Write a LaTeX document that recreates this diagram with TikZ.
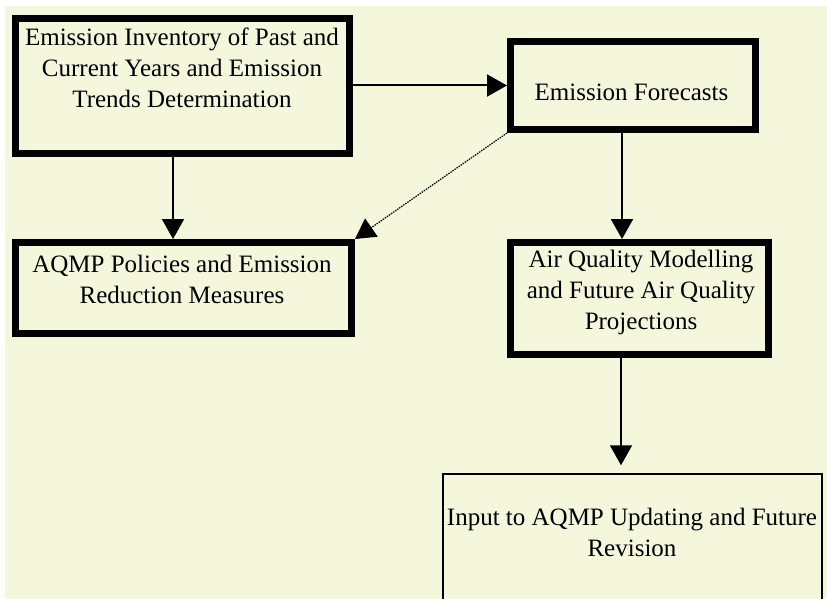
\documentclass[tikz,border=0pt]{standalone}
\usepackage{fontspec}
\setmainfont{Liberation Serif}
\usetikzlibrary{arrows.meta}
\definecolor{paper}{RGB}{245,247,220}
\begin{document}
\begin{tikzpicture}[x=1pt,y=-1pt,
  heavybox/.style={draw=black, line width=7pt, fill=paper, inner sep=0pt, rectangle},
  lightbox/.style={draw=black, line width=1.5pt, fill=paper, inner sep=0pt, rectangle},
  label/.style={font=\fontsize{25}{31}\selectfont, align=center, inner sep=0pt},
  flow/.style={line width=2pt, -{Triangle[length=20pt,width=22pt]}},
  hint/.style={line width=1.2pt, dash pattern=on 1.5pt off 1pt, -{Triangle[length=20pt,width=22pt]}}
]
\useasboundingbox (0,0) rectangle (827,599);
\fill[white] (0,0) rectangle (827,599);
\fill[paper] (5,6) rectangle (827,599);

% boxes
\node[heavybox, minimum width=334pt, minimum height=135pt] (inv) at (182.5,86) {};
\node[heavybox, minimum width=245pt, minimum height=88pt] (fc) at (633,85.5) {};
\node[heavybox, minimum width=336pt, minimum height=91pt] (pol) at (183.5,288) {};
\node[heavybox, minimum width=258pt, minimum height=112pt] (aqm) at (639.5,298.5) {};
\node[lightbox, minimum width=379pt, minimum height=140pt] (inp) at (632.5,544) {};

% box texts
\node[label] (tinv) at (182,68) {Emission Inventory of Past and\\Current Years and Emission\\Trends Determination};
\node[label] (tfc) at (631.5,92) {Emission Forecasts};
\node[label] (tpol) at (182,279) {AQMP Policies and Emission\\Reduction Measures};
\node[label] (taqm) at (641,292) {Air Quality Modelling\\and Future Air Quality\\Projections};
\node[label] (tinp) at (632,532) {Input to AQMP Updating and Future\\Revision};

% connectors
\draw[flow] (fc.west -| inv.east) -- (fc.west);
\draw[flow] ([xshift=-9.5pt]inv.south) -- ([xshift=-9.5pt]inv.south |- pol.north);
\draw[flow] ([xshift=-11pt]fc.south) -- ([xshift=-11pt]fc.south |- aqm.north);
\draw[flow, shorten >=8pt] ([xshift=-18.5pt]aqm.south) -- ([xshift=-18.5pt]aqm.south |- inp.north);
\draw[hint] (fc.south west) -- (pol.north east);
\end{tikzpicture}
\end{document}
